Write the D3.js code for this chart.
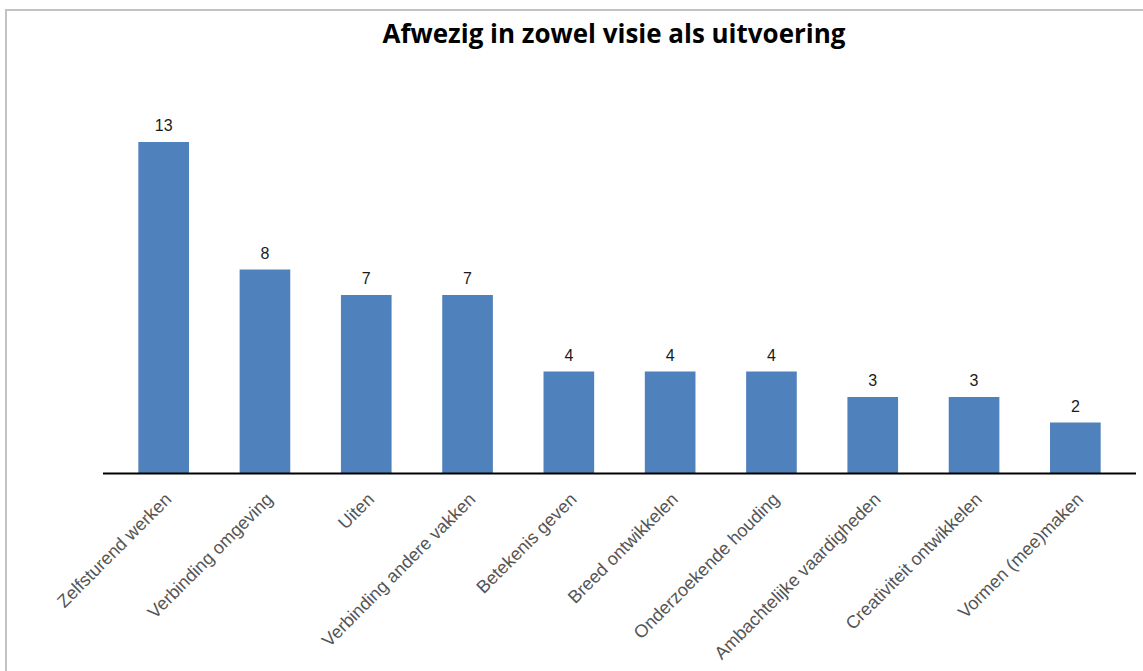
<!DOCTYPE html>
<html>
<head>
<meta charset="utf-8">
<script src="https://cdn.jsdelivr.net/npm/d3@7"></script>
<style>
  html, body { margin: 0; padding: 0; background: #fff; }
  svg { display: block; }
</style>
</head>
<body>
<svg id="chart" width="1143" height="671"></svg>
<script>
// Chart data
const title = "Afwezig in zowel visie als uitvoering";
const categories = [
  "Zelfsturend werken",
  "Verbinding omgeving",
  "Uiten",
  "Verbinding andere vakken",
  "Betekenis geven",
  "Breed ontwikkelen",
  "Onderzoekende houding",
  "Ambachtelijke vaardigheden",
  "Creativiteit ontwikkelen",
  "Vormen (mee)maken"
];
const values = [13, 8, 7, 7, 4, 4, 4, 3, 3, 2];

const W = 1143, H = 671;
const svg = d3.select("#chart");

svg.append("rect").attr("width", W).attr("height", H).attr("fill", "#fff");

// frame edges (top and left)
svg.append("path")
  .attr("d", `M6,${H} V10 H${W}`)
  .attr("fill", "none")
  .attr("stroke", "#c3c3c3")
  .attr("stroke-width", 2);

const baseY = 473.5;
const x = d3.scaleBand()
  .domain(categories)
  .range([113, 1126])
  .paddingInner(0.5)
  .paddingOuter(0.25);

const y = d3.scaleLinear()
  .domain([0, 13])
  .range([baseY, 142]);

// bars
svg.append("g")
  .selectAll("rect")
  .data(categories)
  .join("rect")
  .attr("x", d => x(d))
  .attr("y", (d, i) => y(values[i]))
  .attr("width", x.bandwidth())
  .attr("height", (d, i) => baseY - y(values[i]))
  .attr("fill", "#4f81bd");

// value labels
svg.append("g")
  .selectAll("text")
  .data(categories)
  .join("text")
  .attr("x", d => x(d) + x.bandwidth() / 2)
  .attr("y", (d, i) => y(values[i]) - 11)
  .attr("text-anchor", "middle")
  .attr("font-family", "'Liberation Sans', Arial, sans-serif")
  .attr("font-size", 16)
  .attr("fill", "#1a1a1a")
  .text((d, i) => values[i]);

// category axis
const axis = svg.append("g")
  .attr("transform", `translate(0,${baseY})`)
  .call(d3.axisBottom(x).tickSize(0).tickSizeOuter(0));
axis.select(".domain").remove();
axis.selectAll("text")
  .attr("font-family", "'Liberation Sans', Arial, sans-serif")
  .attr("font-size", 18)
  .attr("fill", "#555")
  .attr("text-anchor", "end")
  .attr("dy", null)
  .attr("y", 0)
  .attr("transform", "translate(9,27) rotate(-45)");

// baseline
svg.append("line")
  .attr("x1", 103).attr("x2", 1136)
  .attr("y1", baseY).attr("y2", baseY)
  .attr("stroke", "#000")
  .attr("stroke-width", 2.2);

// title
const t = svg.append("text")
  .attr("x", 614)
  .attr("y", 43)
  .attr("text-anchor", "middle")
  .attr("font-family", "'Open Sans', sans-serif")
  .attr("font-weight", 700)
  .attr("font-size", 24)
  .attr("fill", "#000")
  .text(title);
const tw = t.node().getComputedTextLength();
t.attr("font-size", 24 * 463 / tw);
</script>
</body>
</html>
